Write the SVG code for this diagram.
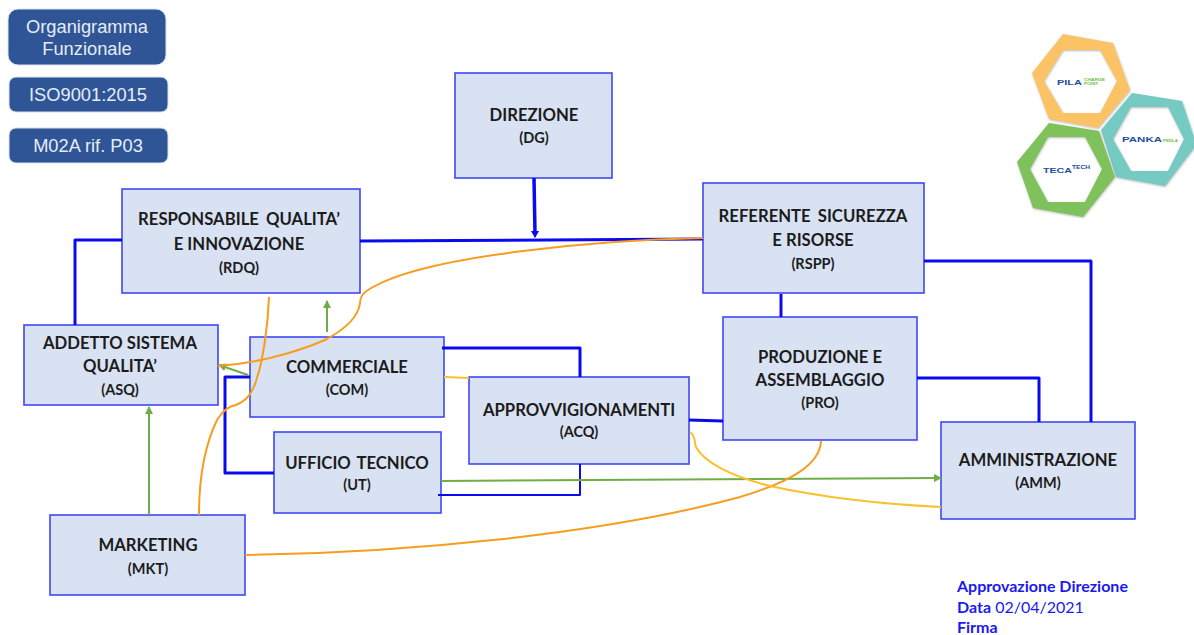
<svg xmlns="http://www.w3.org/2000/svg" width="1194" height="635" viewBox="0 0 1194 635">
<style>
.n{fill:#d9e2f3;stroke:#3f48f5;stroke-width:1.6}
.t{font-family:Lato,"Liberation Sans",sans-serif;font-weight:700;fill:#1c1c1c;text-anchor:middle}
.b{font-size:16.7px}.s{font-size:14.5px}
.h{fill:#2f5597;stroke:#dbe3f3;stroke-width:1}
.w{font-family:"Liberation Sans",Arial,sans-serif;font-size:18.3px;fill:#e6ecf6;text-anchor:middle}
.c{fill:none}.bl{stroke:#0a0aef;stroke-linejoin:round}.or{stroke:#f79d1e;stroke-width:2}.ye{stroke:#fbc02d;stroke-width:2}.gr{stroke:#70ad47;stroke-width:2}
.f{font-family:Lato,"Liberation Sans",sans-serif;font-size:16px;fill:#1a1af0}
.l{font-family:"Liberation Sans",Arial,sans-serif;font-weight:700}
.hex{filter:url(#sh)}
</style>
<defs>
<marker id="ga" markerWidth="10" markerHeight="10" refX="7" refY="4" orient="auto" markerUnits="userSpaceOnUse"><path d="M0 0L8 4L0 8Z" fill="#70ad47"/></marker>
<marker id="ba" markerWidth="10" markerHeight="10" refX="6" refY="4" orient="auto" markerUnits="userSpaceOnUse"><path d="M0 0L7 4L0 8Z" fill="#0a0aef"/></marker>
<filter id="sh" x="-10%" y="-10%" width="120%" height="120%"><feDropShadow dx="0.500" dy="1" stdDeviation="0.800" flood-color="#888" flood-opacity="0.600"/></filter>
</defs>
<g id="title1"><rect class="h" x="8" y="9" width="158" height="56" rx="10"/><text class="w" x="87" y="33">Organigramma</text><text class="w" x="87" y="55">Funzionale</text></g>
<g id="title2"><rect class="h" x="9" y="77" width="159" height="35" rx="7"/><text class="w" x="88" y="101">ISO9001:2015</text></g>
<g id="title3"><rect class="h" x="9" y="128" width="159" height="35" rx="7"/><text class="w" x="88" y="152">M02A rif. P03</text></g>
<g id="DG"><rect class="n" x="455" y="73" width="157" height="105"/><text class="t b" x="534" y="121">DIREZIONE</text><text class="t s" x="534" y="143">(DG)</text></g>
<g id="RDQ"><rect class="n" x="122" y="189" width="238" height="104"/><text class="t b" x="239" y="225" word-spacing="3">RESPONSABILE QUALITA’</text><text class="t b" x="239" y="250">E INNOVAZIONE</text><text class="t s" x="239" y="273">(RDQ)</text></g>
<g id="RSPP"><rect class="n" x="703" y="183" width="221" height="110"/><text class="t b" x="813" y="222" word-spacing="3">REFERENTE SICUREZZA</text><text class="t b" x="813" y="246">E RISORSE</text><text class="t s" x="813" y="269">(RSPP)</text></g>
<g id="ASQ"><rect class="n" x="24" y="325" width="194" height="80"/><text class="t b" x="120" y="349">ADDETTO SISTEMA</text><text class="t b" x="120" y="372">QUALITA’</text><text class="t s" x="120" y="395">(ASQ)</text></g>
<g id="COM"><rect class="n" x="250" y="337" width="194" height="80"/><text class="t b" x="347" y="373">COMMERCIALE</text><text class="t s" x="347" y="395">(COM)</text></g>
<g id="ACQ"><rect class="n" x="469" y="377" width="220" height="87"/><text class="t b" x="579" y="416">APPROVVIGIONAMENTI</text><text class="t s" x="579" y="437">(ACQ)</text></g>
<g id="PRO"><rect class="n" x="723" y="317" width="194" height="123"/><text class="t b" x="820" y="363">PRODUZIONE E</text><text class="t b" x="820" y="386">ASSEMBLAGGIO</text><text class="t s" x="820" y="408">(PRO)</text></g>
<g id="UT"><rect class="n" x="274" y="432" width="167" height="81"/><text class="t b" x="357" y="469" word-spacing="2">UFFICIO TECNICO</text><text class="t s" x="357" y="490">(UT)</text></g>
<g id="AMM"><rect class="n" x="941" y="422" width="194" height="97"/><text class="t b" x="1038" y="466">AMMINISTRAZIONE</text><text class="t s" x="1038" y="488">(AMM)</text></g>
<g id="MKT"><rect class="n" x="50" y="515" width="195" height="80"/><text class="t b" x="148" y="551">MARKETING</text><text class="t s" x="148" y="574">(MKT)</text></g>
<g id="connectors">
<path class="c bl" stroke-width="3.500" d="M534 178L535 233"/>
<path class="c bl" stroke-width="2" d="M535 232L535 237" marker-end="url(#ba)"/>
<path class="c bl" stroke-width="3" d="M360 241L703 239"/>
<path class="c bl" stroke-width="3" d="M122 240H75V325"/>
<path class="c bl" stroke-width="3" d="M924 261H1091V422"/>
<path class="c bl" stroke-width="3" d="M781 294V317"/>
<path class="c bl" stroke-width="3" d="M917 378H1039V422"/>
<path class="c bl" stroke-width="3" d="M442 348H580V377"/>
<path class="c bl" stroke-width="3" d="M689 420L723 421"/>
<path class="c bl" stroke-width="3" d="M250 377H225V473H274"/>
<path class="c bl" stroke-width="2" d="M438 495H580V464"/>
<path class="c gr" d="M327 332V301" marker-end="url(#ga)"/>
<path class="c gr" d="M248 375L219 365" marker-end="url(#ga)"/>
<path class="c gr" d="M149 515V407" marker-end="url(#ga)"/>
<path class="c gr" d="M441 481L941 478" marker-end="url(#ga)"/>
<path class="c or" d="M703 238C600 240 430 255 373 287C362 293 360 297 360 303C358 320 340 332 325 340C290 355 250 364 218 366"/>
<path class="c or" d="M269 297C268 325 263 360 257 378C253 392 248 400 236 405C228 406 222 412 217 420C205 445 199 480 199 515"/>
<path class="c or" d="M245 555C400 553 600 535 740 497C790 482 820 465 821 441"/>
<path class="c ye" d="M444 377L469 378"/>
<path class="c ye" d="M690 432C696 436 694 442 696 447C704 462 730 476 770 486C820 497 880 504 941 507"/>
</g>
<g id="logo-pila"><path class="hex" fill-rule="evenodd" fill="#fbc365" d="M1063 34L1113 43L1130 90L1098 128L1049 119L1032 73ZM1063 50L1044 81L1063 113L1100 113L1117 81L1100 50Z"/><text class="l" x="1057" y="85" font-size="8" textLength="25" lengthAdjust="spacingAndGlyphs" fill="#1f4e9c">PILA</text><text class="l" x="1084" y="81" font-size="3.500" textLength="21" lengthAdjust="spacingAndGlyphs" fill="#6cbf3c">CHARGE</text><text class="l" x="1084" y="85" font-size="3.500" textLength="14" lengthAdjust="spacingAndGlyphs" fill="#6cbf3c">POINT</text></g>
<g id="logo-panka"><path class="hex" fill-rule="evenodd" fill="#74cac1" d="M1132 93L1182 101L1194 137V148L1165 186L1116 177L1101 130ZM1131 107L1113 139L1131 171L1168 171L1184 139L1168 107Z"/><text class="l" x="1122" y="142" font-size="8" textLength="40" lengthAdjust="spacingAndGlyphs" fill="#1f4e9c">PANKA</text><text class="l" x="1163" y="142" font-size="3.500" textLength="15" lengthAdjust="spacingAndGlyphs" fill="#6cbf3c">PEDLA</text></g>
<g id="logo-tecatech"><path class="hex" fill-rule="evenodd" fill="#7fc15a" d="M1049 123L1099 131L1115 177L1083 217L1033 208L1017 162ZM1048 137L1030 169L1048 202L1085 202L1102 169L1085 137Z"/><text class="l" x="1043" y="173" font-size="8" textLength="29" lengthAdjust="spacingAndGlyphs" fill="#1f4e9c">TECA</text><text class="l" x="1072" y="169" font-size="5" textLength="18" lengthAdjust="spacingAndGlyphs" fill="#1f4e9c">TECH</text></g>
<g id="approval"><text class="f" x="957" y="592" font-weight="700">Approvazione Direzione</text><text class="f" x="957" y="613"><tspan font-weight="700">Data</tspan> 02/04/2021</text><text class="f" x="957" y="633" font-weight="700">Firma</text></g>
</svg>
